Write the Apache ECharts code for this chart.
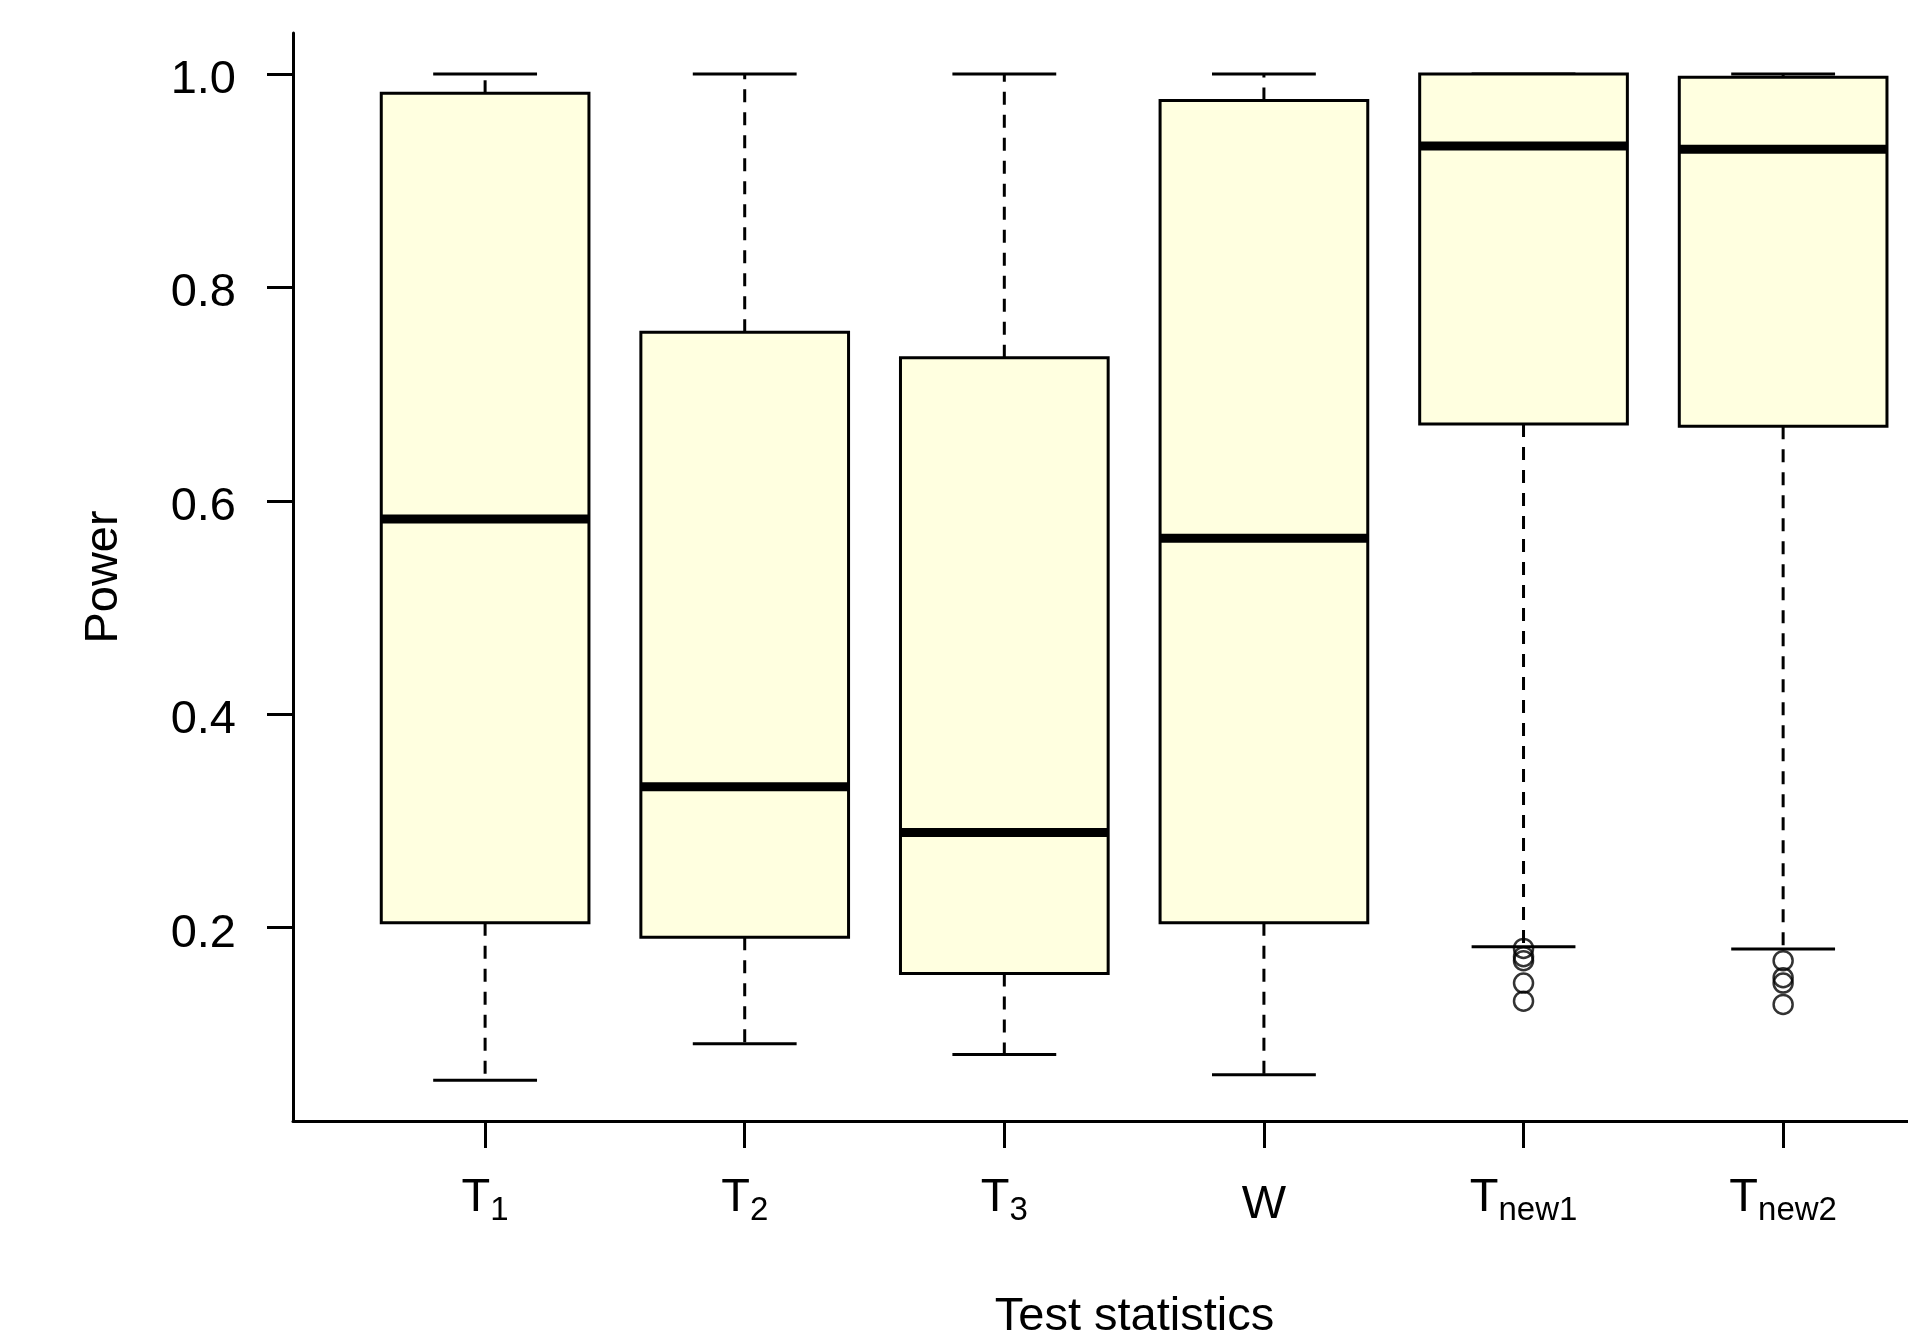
<!DOCTYPE html>
<html>
<head>
<meta charset="utf-8">
<script src="https://cdn.jsdelivr.net/npm/echarts@6/dist/echarts.min.js"></script>
<style>
html,body{margin:0;padding:0;background:#fff;}
#chart{width:1908px;height:1341px;}
</style>
</head>
<body>
<div id="chart"></div>
<script>
// ---- data ----
const categories = ['T1', 'T2', 'T3', 'W', 'Tnew1', 'Tnew2'];
const categoryLabels = ['{m|T}{s|1}', '{m|T}{s|2}', '{m|T}{s|3}', '{w|W}', '{m|T}{s|new1}', '{m|T}{s|new2}'];
const lowerWhisker = [0.057, 0.091, 0.081, 0.062, 0.182, 0.180];
const firstQuartile = [0.2045, 0.191, 0.157, 0.2045, 0.672, 0.670];
const medians = [0.583, 0.332, 0.289, 0.565, 0.9325, 0.9295];
const thirdQuartile = [0.982, 0.758, 0.734, 0.9753, 1.0, 0.997];
const upperWhisker = [1.0, 1.0, 1.0, 1.0, 1.0, 1.0];
const outliersTnew1 = [0.1805, 0.1727, 0.169, 0.148, 0.131];
const outliersTnew2 = [0.169, 0.153, 0.148, 0.128];
const yTicks = [0.2, 0.4, 0.6, 0.8, 1.0];
const xTicks = [1, 2, 3, 4, 5, 6];

const FONT = '"Liberation Sans", Arial, sans-serif';

const boxData = categories.map((c, i) => [i + 1, lowerWhisker[i], firstQuartile[i], medians[i], thirdQuartile[i], upperWhisker[i]]);
const outlierData = outliersTnew1.map(v => [5, v]).concat(outliersTnew2.map(v => [6, v]));

const chart = echarts.init(document.getElementById('chart'), null, {renderer: 'canvas'});

function renderBox(params, api) {
  const x = api.value(0);
  const lo = api.value(1), q1 = api.value(2), med = api.value(3), q3 = api.value(4), hi = api.value(5);
  const pLo = api.coord([x, lo]);
  const pQ1 = api.coord([x, q1]);
  const pMed = api.coord([x, med]);
  const pQ3 = api.coord([x, q3]);
  const pHi = api.coord([x, hi]);
  const half = api.size([0.4, 0])[0];
  const capHalf = api.size([0.2, 0])[0];
  const cx = pMed[0];
  const dashStyle = {stroke: '#000', lineWidth: 3, lineDash: [13, 10], fill: null};
  const solid = {stroke: '#000', lineWidth: 3, fill: null};
  return {
    type: 'group',
    children: [
      {type: 'line', shape: {x1: cx, y1: pQ3[1], x2: cx, y2: pHi[1]}, style: dashStyle},
      {type: 'line', shape: {x1: cx, y1: pQ1[1], x2: cx, y2: pLo[1]}, style: dashStyle},
      {type: 'line', shape: {x1: cx - capHalf, y1: pHi[1], x2: cx + capHalf, y2: pHi[1]}, style: solid},
      {type: 'line', shape: {x1: cx - capHalf, y1: pLo[1], x2: cx + capHalf, y2: pLo[1]}, style: solid},
      {type: 'rect', shape: {x: cx - half, y: pQ3[1], width: half * 2, height: pQ1[1] - pQ3[1]},
        style: {fill: '#FFFFE0', stroke: '#000', lineWidth: 3}},
      {type: 'line', shape: {x1: cx - half, y1: pMed[1], x2: cx + half, y2: pMed[1]},
        style: {stroke: '#000', lineWidth: 9, fill: null}}
    ]
  };
}

const option = {
  backgroundColor: '#fff',
  animation: false,
  grid: {left: 293, right: 0, top: 33, bottom: 220, containLabel: false, outerBoundsMode: 'none'},
  xAxis: {
    type: 'value',
    min: 0.26,
    max: 6.481,
    splitLine: {show: false},
    axisLine: {show: true, onZero: false, lineStyle: {color: '#000', width: 3}},
    axisTick: {show: true, customValues: xTicks, length: 27, inside: false, lineStyle: {color: '#000', width: 3}},
    axisLabel: {
      show: true,
      customValues: xTicks,
      margin: 54,
      formatter: function (v) { return categoryLabels[Math.round(v) - 1]; },
      rich: {
        m: {fontFamily: FONT, fontSize: 47, lineHeight: 47, color: '#000', verticalAlign: 'top'},
        s: {fontFamily: FONT, fontSize: 33, lineHeight: 33, color: '#000', verticalAlign: 'top', padding: [19, 0, 0, 0]},
        w: {fontFamily: FONT, fontSize: 47, lineHeight: 47, color: '#000', verticalAlign: 'top', padding: [7, 0, 0, 0]}
      }
    },
    name: 'Test statistics',
    nameLocation: 'middle',
    nameGap: 173,
    nameTextStyle: {fontFamily: FONT, fontSize: 47, color: '#000', padding: [0, 0, 0, 68]}
  },
  yAxis: {
    type: 'value',
    min: 0.0187,
    max: 1.0385,
    splitLine: {show: false},
    axisLine: {show: true, onZero: false, lineStyle: {color: '#000', width: 3}},
    axisTick: {show: true, customValues: yTicks, length: 26, inside: false, lineStyle: {color: '#000', width: 3}},
    axisLabel: {
      show: true,
      customValues: yTicks,
      margin: 57,
      formatter: function (v) { return '{v|' + v.toFixed(1) + '}'; },
      rich: {
        v: {fontFamily: FONT, fontSize: 47, lineHeight: 47, color: '#000', padding: [12, 0, 0, 0]}
      }
    },
    name: 'Power',
    nameLocation: 'middle',
    nameGap: 165,
    nameTextStyle: {fontFamily: FONT, fontSize: 47, color: '#000'}
  },
  series: [
    {
      type: 'custom',
      name: 'boxes',
      renderItem: renderBox,
      encode: {x: 0, y: [1, 2, 3, 4, 5]},
      data: boxData,
      clip: false
    },
    {
      type: 'scatter',
      name: 'outliers',
      data: outlierData,
      symbol: 'circle',
      symbolSize: 19,
      itemStyle: {color: 'rgba(0,0,0,0)', borderColor: '#000', borderWidth: 2.5},
      z: 5
    }
  ]
};
chart.setOption(option);
</script>
</body>
</html>
